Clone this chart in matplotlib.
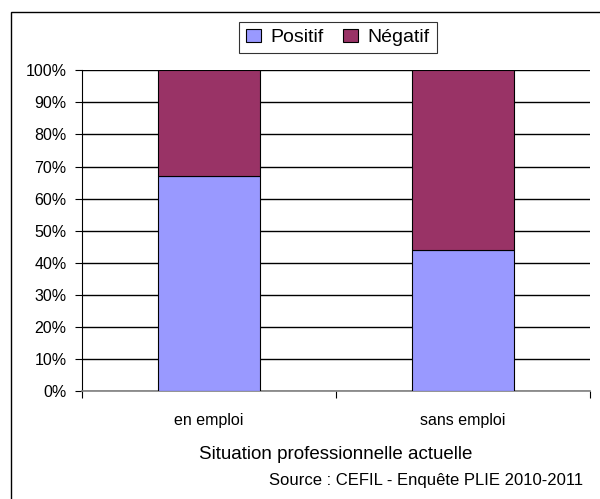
import matplotlib.pyplot as plt
from matplotlib.patches import Rectangle
from matplotlib.ticker import FixedLocator, PercentFormatter

plt.rcParams['font.family'] = ['Liberation Sans', 'DejaVu Sans']

categories = ["en emploi", "sans emploi"]
positif = [67, 44]
negatif = [33, 56]
series_names = ["Positif", "Négatif"]

fig = plt.figure(figsize=(6.0, 4.99), dpi=100)
ax = fig.add_axes([82 / 600, 1 - 391 / 499, 508 / 600, (391 - 70.3) / 499])

x = list(range(len(categories)))
ax.bar(x, positif, width=0.4, color="#9999FF", edgecolor="black", linewidth=0.8,
       label=series_names[0], zorder=3)
ax.bar(x, negatif, width=0.4, bottom=positif, color="#993366", edgecolor="black",
       linewidth=0.8, label=series_names[1], zorder=3)

ax.set_xlim(-0.5, len(categories) - 0.5)
ax.set_ylim(0, 100)
ax.set_yticks(range(0, 101, 10))
ax.yaxis.set_major_formatter(PercentFormatter(decimals=0))
ax.yaxis.grid(True, color="black", linewidth=1.0, zorder=0)
ax.tick_params(axis="y", length=5, width=0.8, labelsize=11.5, pad=6, direction="out")

# category boundaries as ticks, labels centered
ax.xaxis.set_major_locator(FixedLocator([-0.5, 0.5, 1.5]))
ax.xaxis.set_major_formatter(plt.NullFormatter())
ax.xaxis.set_minor_locator(FixedLocator(x))
ax.set_xticklabels(categories, minor=True)
ax.tick_params(axis="x", which="major", length=5, width=0.8, color="black")
ax.tick_params(axis="x", which="minor", length=0, labelsize=11.5, pad=16)

ax.spines["top"].set_visible(False)
ax.spines["right"].set_visible(False)
ax.spines["left"].set_color("black")
ax.spines["bottom"].set_color("#808080")
ax.spines["bottom"].set_linewidth(1.2)

ax.set_xlabel("Situation professionnelle actuelle", fontsize=13.5, labelpad=12.5)

leg = fig.legend(loc="center", bbox_to_anchor=(338 / 600, 1 - 37.6 / 499), ncol=2,
                 fontsize=14, frameon=True, fancybox=False, edgecolor="black",
                 handlelength=0.75, handleheight=0.7, handletextpad=0.5,
                 columnspacing=1.0, borderpad=0.35, borderaxespad=0)
leg.get_frame().set_linewidth(0.8)

fig.text(426 / 600, 1 - 481 / 499, "Source : CEFIL - Enquête PLIE 2010-2011",
         ha="center", va="center", fontsize=12)

# chart border (cropped at right/bottom)
fig.patches.append(Rectangle((11 / 600, -0.1), 1.2, 1 - 12 / 499 + 0.1,
                             transform=fig.transFigure, fill=False,
                             edgecolor="black", linewidth=1.0))

fig.savefig("out.png", dpi=100)
